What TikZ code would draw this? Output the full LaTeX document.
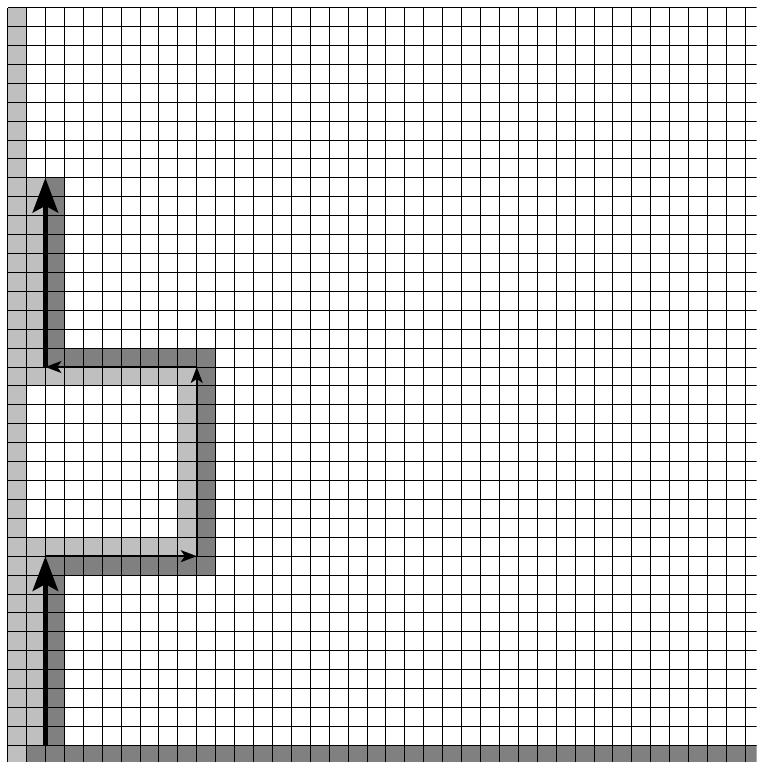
\documentclass[tikz,border=0pt]{standalone}
\usetikzlibrary{arrows.meta}
\definecolor{lightcell}{gray}{0.75}
\definecolor{darkcell}{gray}{0.5}
\tikzset{
  thickarrow/.style={line width=4.3pt, -{Stealth[length=26pt,width=19pt,inset=5pt]}},
  thinarrow/.style={line width=1.5pt, -{Stealth[length=12pt,width=9pt,inset=3pt]}},
}
\begin{document}
\begin{tikzpicture}[x=0.5cm, y=0.5cm, line join=round]
  \useasboundingbox (-0.4,0.12) rectangle (39.6,40.4);
  \clip (-0.4,0.12) rectangle (39.6,40.4);
  % corners of the walk
  \path
  (2,1) coordinate (S)
  (2,11) coordinate (A)
  (10,11) coordinate (B)
  (10,21) coordinate (C)
  (2,21) coordinate (D)
  (2,31) coordinate (E)
  ;
  % shaded cells
  \foreach \xa/\ya/\xb/\yb in {0/0/1/40,1/1/2/12,2/11/10/12,9/12/10/21,1/20/9/21,1/21/2/31}
    \fill[lightcell] (\xa,\ya) rectangle (\xb,\yb);
  \foreach \xa/\ya/\xb/\yb in {1/0/40/1,2/1/3/10,2/10/11/11,10/11/11/21,2/21/11/22,2/22/3/31}
    \fill[darkcell] (\xa,\ya) rectangle (\xb,\yb);
  \draw[line width=0.7pt, step=1] (0,0) grid (40,40);
  % the walk
  \draw[thickarrow] (S) -- (A);
  \draw[thinarrow] (A) -- (B);
  \draw[thinarrow] (B) -- (C);
  \draw[thinarrow] (C) -- (D);
  \draw[thickarrow] (D) -- (E);
\end{tikzpicture}
\end{document}
